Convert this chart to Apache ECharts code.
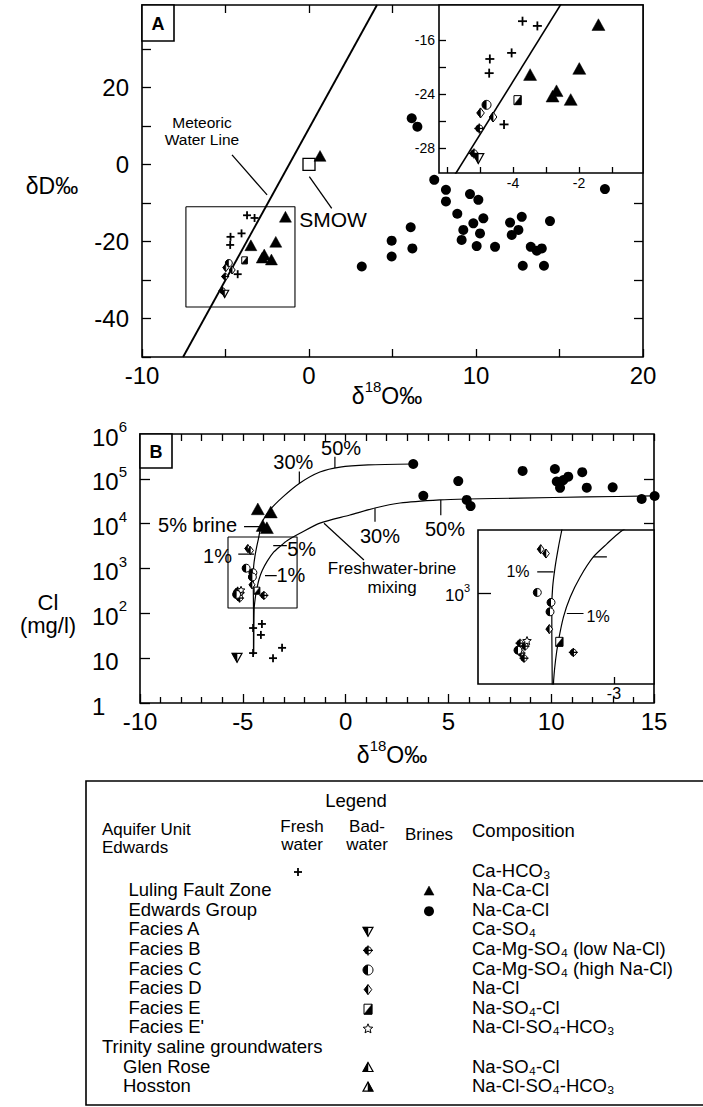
<!DOCTYPE html>
<html>
<head>
<meta charset="utf-8">
<script src="https://cdn.jsdelivr.net/npm/echarts@6/dist/echarts.min.js"></script>
<style>html,body{margin:0;padding:0;background:#fff}#c{width:703px;height:1107px}</style>
</head>
<body>
<div id="c"></div>
<script>
// ================= DATA =================
// Panel A : x = delta18O (permil), y = deltaD (permil)
const aFresh   = [[-3.71,-13.2],[-3.26,-13.9],[-4.04,-17.9],[-4.70,-18.8],[-4.72,-20.9],[-4.27,-28.5]];
const aLuling  = [[-1.41,-13.9],[-1.99,-20.4],[-3.48,-21.3],[-2.68,-23.7],[-2.80,-24.5],[-2.25,-25.0],[0.66,1.9]];
const aEdwards = [[3.16,-26.5],[6.15,12.0],[6.49,9.8],[7.50,-4.0],[8.20,-6.6],[8.20,-9.6],[8.88,-12.8],[9.64,-7.7],
  [10.14,-9.2],[10.44,-14.0],[9.84,-15.3],[9.24,-17.0],[9.14,-19.6],[10.24,-17.9],[10.04,-21.2],[11.14,-21.4],
  [12.04,-15.1],[12.74,-13.6],[12.54,-17.0],[12.14,-18.3],[14.43,-14.7],[13.28,-21.4],[13.94,-21.8],[13.64,-22.4],
  [12.80,-26.3],[14.07,-26.3],[17.72,-6.4],[6.09,-16.3],[4.95,-19.8],[4.95,-23.9],[6.19,-21.8]];
const aFaciesA = [[-5.05,-33.4]];
const aFaciesB = [[-5.02,-29.1],[-5.18,-32.8]];
const aFaciesC = [[-4.80,-25.6]];
const aFaciesD = [[-4.98,-26.8],[-4.60,-27.4]];
const aFaciesE = [[-3.86,-24.9]];
const aSMOW    = [[0,0]];
const aMeteoricLine = [[-7.54,-50],[4.07,41.4]];
const aZoomBox = [[-7.37,-11.0],[-0.84,-11.0],[-0.84,-37.0],[-7.37,-37.0],[-7.37,-11.0]];

// Panel B : x = delta18O (permil), y = Cl (mg/l)
const bFresh   = [[-4.50,47],[-4.07,58],[-4.12,33],[-4.50,13],[-3.53,10],[-3.09,17]];
const bLuling  = [[-4.27,20000],[-3.64,17000],[-4.03,8500],[-3.83,7600]];
const bEdwards = [[3.29,214000],[3.78,41900],[5.48,89000],[5.89,33900],[6.08,24700],[8.61,150000],[10.18,166000],
  [10.27,87000],[10.43,63000],[10.59,93800],[10.83,112000],[11.51,141000],[11.73,63500],[12.99,64600],[14.40,35500],[15.03,41500]];
const bFaciesA = [[-5.28,10.7]];
const bFaciesB = [[-3.975,251],[-5.253,311],[-5.133,290],[-5.229,247],[-5.157,219]];
const bFaciesC = [[-4.838,1016],[-4.509,805],[-4.533,647],[-5.301,264]];
const bFaciesD = [[-4.756,2790],[-4.629,2520],[-4.550,432]];
const bFaciesE = [[-4.310,321]];
const bFaciesE2 = [[-5.085,327]];
// mixing curves
const bMixUpper = [[-4.48,12],[-4.48,120],[-4.49,390],[-4.49,720],[-4.47,1150],[-4.41,1860],[-4.33,2950],[-4.25,4370],
  [-4.07,10400],[-3.68,20200],[-3.05,39600],[-2.22,81000],[-1.25,142000],[-0.27,183000],[1.10,204000],[3.29,214000]];
const bMixLower = [[-4.47,12],[-4.45,120],[-4.40,210],[-4.33,330],[-4.21,575],[-4.05,910],[-3.81,1460],[-3.49,2340],
  [-3.17,3160],[-2.85,4170],[-2.22,6100],[-1.25,10300],[0.21,15600],[1.43,22400],[2.65,28900],[4.59,33900],
  [5.90,35500],[8.48,37200],[11.74,39400],[14.95,41500]];
const bZoomBox = [[-5.72,5040],[-2.36,5040],[-2.36,132],[-5.72,132],[-5.72,5040]];

// tick labels
const aXLabels = [-10,0,10,20];
const aYLabels = [-40,-20,0,20];
const aTopTicks = [-5,0,5];
const aRightTicks = [-40,-30,-20,-10];
const aInsetXTicks = [-6,-5,-4,-3,-2,-1];
const aInsetXLabels = [-4,-2];
const aInsetYTicks = [-32,-28,-24,-20,-16];
const aInsetYLabelValues = [-16,-24,-32];
const aInsetYLabelText = ['-16','-24','-28'];
const bRightTicks = [10000,100000];
const bInsetXLabels = [-3];
const bInsetYLabels = [1000];

// annotations (data coordinates)
const aTexts = [
  {x:-6.41,y:11.0,text:'Meteoric',size:15.5},
  {x:-6.41,y:6.4,text:'Water Line',size:15.5},
  {x:1.44,y:-14.4,text:'SMOW',size:21}
];
const aLeaders = [ [[-4.61,2.47],[-2.51,-7.92]], [[0.02,-3.17],[1.36,-11.4]] ];
const bTexts = [
  {x:-0.22,y:479000,text:'50%',size:20},
  {x:-2.54,y:240000,text:'30%',size:20},
  {x:-7.20,y:9120,text:'5% brine',size:20},
  {x:-6.23,y:1860,text:'1%',size:20},
  {x:-2.14,y:2720,text:'5%',size:20},
  {x:-2.66,y:716,text:'1%',size:20},
  {x:1.67,y:5370,text:'30%',size:20},
  {x:4.83,y:7590,text:'50%',size:20},
  {x:2.26,y:1000,text:'Freshwater-brine',size:17},
  {x:2.26,y:372,text:'mixing',size:17}
];
const bLeaders = [
  [[-0.52,175000],[-0.52,310000]], [[-2.25,79000],[-2.25,145000]],
  [[-4.94,8570],[-4.16,8570]], [[-5.22,2100],[-4.45,2100]],
  [[-3.52,3240],[-2.86,3240]], [[-3.92,692],[-3.35,692]],
  [[1.43,22000],[1.43,11000]], [[4.63,33900],[4.63,15500]],
  [[-1.05,10200],[0.89,1550]]
];
const bInsetTexts = [ {x:-5.30,y:1645,text:'1%',size:16}, {x:-3.38,y:585,text:'1%',size:16} ];
const bInsetLeaders = [ [[-4.84,1645],[-4.45,1645]], [[-3.50,2335],[-3.17,2335]], [[-4.13,622],[-3.73,622]] ];

// legend table
const legendRows = [
  {label:'', x:0, fresh:'plus', comp:'Ca-HCO₃'},
  {label:'Luling Fault Zone', x:1, brine:'tri', comp:'Na-Ca-Cl'},
  {label:'Edwards Group', x:1, brine:'dot', comp:'Na-Ca-Cl'},
  {label:'Facies A', x:1, bad:'triDown', comp:'Ca-SO₄'},
  {label:'Facies B', x:1, bad:'crossCircle', comp:'Ca-Mg-SO₄ (low Na-Cl)'},
  {label:'Facies C', x:1, bad:'halfCircle', comp:'Ca-Mg-SO₄ (high Na-Cl)'},
  {label:'Facies D', x:1, bad:'halfDiamond', comp:'Na-Cl'},
  {label:'Facies E', x:1, bad:'halfSquare', comp:'Na-SO₄-Cl'},
  {label:"Facies E'", x:1, bad:'star', comp:'Na-Cl-SO₄-HCO₃'},
  {label:'Trinity saline groundwaters', x:0, comp:''},
  {label:'Glen Rose', x:0.6, bad:'triHalfL', comp:'Na-SO₄-Cl'},
  {label:'Hosston', x:0.6, bad:'triHalfR', comp:'Na-Cl-SO₄-HCO₃'}
];

// ================= RENDERING =================
const K = '#000';
const SANS = '"Liberation Sans", Arial, Helvetica, "DejaVu Sans", sans-serif';

function shapes(kind, x, y, s) {
  const r = s / 2, o = [];
  const line = (x1,y1,x2,y2,w) => o.push({type:'line', shape:{x1:x1,y1:y1,x2:x2,y2:y2}, style:{stroke:K, lineWidth:w||1.6}});
  const poly = (pts, fill, w) => o.push({type:'polygon', shape:{points:pts}, style:{fill:fill, stroke:K, lineWidth:w==null?1:w}});
  const circ = (rr, fill, w) => o.push({type:'circle', shape:{cx:x, cy:y, r:rr}, style:{fill:fill, stroke:K, lineWidth:w==null?1:w}});
  const halfDisc = (rr) => o.push({type:'sector', shape:{cx:x, cy:y, r:rr, r0:0, startAngle:Math.PI/2, endAngle:Math.PI*1.5, clockwise:true}, style:{fill:K}});
  switch (kind) {
    case 'plus': line(x-r,y,x+r,y,1.8); line(x,y-r,x,y+r,1.8); break;
    case 'tri': poly([[x,y-r*1.1],[x+r,y+r*0.7],[x-r,y+r*0.7]], K, 0.5); break;
    case 'dot': circ(r, K, 0); break;
    case 'square': o.push({type:'rect', shape:{x:x-r,y:y-r,width:s,height:s}, style:{fill:'#fff',stroke:K,lineWidth:1.3}}); break;
    case 'triDown':
      poly([[x-r,y-r*0.7],[x+r,y-r*0.7],[x,y+r*1.1]],'#fff',1.2);
      poly([[x-r,y-r*0.7],[x,y-r*0.7],[x,y+r*1.1]],K,0.5); break;
    case 'crossCircle':
      circ(r*0.72,'#fff',1); halfDisc(r*0.72); line(x-r,y,x+r,y,1.3); line(x,y-r,x,y+r,1.3); break;
    case 'halfCircle': circ(r,'#fff',1); halfDisc(r); break;
    case 'halfDiamond':
      poly([[x,y-r],[x+r*0.75,y],[x,y+r],[x-r*0.75,y]],'#fff',1);
      poly([[x,y-r],[x,y+r],[x-r*0.75,y]],K,0.5); break;
    case 'halfSquare':
      o.push({type:'rect',shape:{x:x-r*0.8,y:y-r,width:r*1.6,height:s},style:{fill:'#fff',stroke:K,lineWidth:1}});
      poly([[x-r*0.8,y+r],[x+r*0.8,y-r],[x+r*0.8,y+r]],K,0.5); break;
    case 'star': {
      const pts = [];
      for (let i = 0; i < 10; i++) { const a = -Math.PI/2 + i*Math.PI/5; const rr = i%2 ? r*0.45 : r; pts.push([x+rr*Math.cos(a), y+rr*Math.sin(a)]); }
      poly(pts,'#fff',1); break; }
    case 'triHalfL':
      poly([[x,y-r*1.1],[x+r,y+r*0.7],[x-r,y+r*0.7]],'#fff',1.2);
      poly([[x,y-r*1.1],[x,y+r*0.7],[x-r,y+r*0.7]],K,0.5); break;
    case 'triHalfR':
      poly([[x,y-r*1.1],[x+r,y+r*0.7],[x-r,y+r*0.7]],'#fff',1.2);
      poly([[x,y-r*1.1],[x+r,y+r*0.7],[x,y+r*0.7]],K,0.5); break;
  }
  return o;
}

function symSeries(data, kind, size, xi, yi, clip) {
  return {type:'custom', xAxisIndex:xi, yAxisIndex:yi, z:clip?6:3, clip:!!clip, silent:true, animation:false,
    data: data,
    renderItem: function (p, api) {
      const c = api.coord([api.value(0), api.value(1)]);
      return {type:'group', children: shapes(kind, c[0], c[1], size)};
    }};
}
function lineSeries(data, xi, yi, w, smooth, z) {
  return {type:'line', xAxisIndex:xi, yAxisIndex:yi, data: data, symbol:'none', showSymbol:false,
    smooth: smooth || false, lineStyle:{color:K, width:w||1.2}, silent:true, animation:false, z:z||2, clip:true};
}
function textSeries(items, xi, yi) {
  return {type:'custom', xAxisIndex:xi, yAxisIndex:yi, z:7, clip:false, silent:true, animation:false,
    data: items.map(t => [t.x, t.y]),
    renderItem: function (p, api) {
      const t = items[p.dataIndex];
      const c = api.coord([t.x, t.y]);
      return {type:'text', x:c[0], y:c[1], style:{text:t.text, fill:K, fontSize:t.size, fontFamily:SANS, align:'center', verticalAlign:'middle'}};
    }};
}

const tickStyle = {color:K, width:1.3};
const noLine = {show:false, onZero:false};
const gridBase = {show:true, borderColor:K, borderWidth:1.6, backgroundColor:'#fff', containLabel:false};
const lab = (size) => ({color:K, fontSize:size, fontFamily:SANS});

const supRich = {
  b:{fontSize:24, fontFamily:SANS, color:K, verticalAlign:'top', padding:[6,0,0,0]},
  s:{fontSize:15, fontFamily:SANS, color:K, verticalAlign:'top'}
};
function powLabel(v) {
  const e = Math.round(Math.log10(v));
  if (e === 0) return '{b|1}';
  if (e === 1) return '{b|10}';
  return '{b|10}{s|' + e + '}';
}

const option = {
  backgroundColor:'#fff',
  animation:false,
  grid:[
    Object.assign({left:142, top:5, width:501, height:352}, gridBase),
    Object.assign({left:439, top:5, width:204, height:168}, gridBase),
    Object.assign({left:140, top:434, width:514, height:269}, gridBase),
    Object.assign({left:478, top:530, width:176, height:154}, gridBase)
  ],
  xAxis:[
    {gridIndex:0, type:'value', min:-10, max:20, interval:5, position:'bottom', splitLine:{show:false},
     axisLine:noLine, axisTick:{inside:true, length:8, lineStyle:tickStyle},
     axisLabel:Object.assign(lab(24), {margin:6, formatter: v => aXLabels.includes(v) ? String(v) : ''})},
    {gridIndex:0, type:'value', min:-10, max:20, interval:5, position:'top', splitLine:{show:false},
     axisLine:noLine, axisTick:{inside:true, length:8, lineStyle:tickStyle, customValues:aTopTicks}, axisLabel:{show:false}},
    {gridIndex:1, type:'value', min:-6.24, max:-0.06, position:'bottom', splitLine:{show:false},
     axisLine:noLine, axisTick:{inside:true, length:6, lineStyle:tickStyle, customValues:aInsetXTicks},
     axisLabel:Object.assign(lab(14), {margin:3, customValues:aInsetXLabels, formatter: v => String(v)})},
    {gridIndex:2, type:'value', min:-10, max:15, interval:5, position:'bottom', splitLine:{show:false},
     axisLine:noLine, axisTick:{inside:true, length:9, lineStyle:tickStyle},
     minorTick:{show:true, splitNumber:5, length:6, lineStyle:tickStyle},
     axisLabel:Object.assign(lab(24), {margin:6})},
    {gridIndex:2, type:'value', min:-10, max:15, interval:1, position:'top', splitLine:{show:false},
     axisLine:noLine, axisTick:{inside:true, length:7, lineStyle:tickStyle}, axisLabel:{show:false}},
    {gridIndex:3, type:'value', min:-6.26, max:-2.04, position:'bottom', splitLine:{show:false},
     axisLine:noLine, axisTick:{inside:true, length:7, lineStyle:tickStyle, customValues:bInsetXLabels},
     axisLabel:Object.assign(lab(16), {margin:1, customValues:bInsetXLabels, formatter: v => String(v)})}
  ],
  yAxis:[
    {gridIndex:0, type:'value', min:-50, max:41.4, interval:10, position:'left', splitLine:{show:false},
     axisLine:noLine, axisTick:{inside:true, length:9, lineStyle:tickStyle},
     axisLabel:Object.assign(lab(24), {margin:13, formatter: v => aYLabels.includes(v) ? String(v) : ''})},
    {gridIndex:0, type:'value', min:-50, max:41.4, interval:10, position:'right', splitLine:{show:false},
     axisLine:noLine, axisTick:{inside:true, length:9, lineStyle:tickStyle, customValues:aRightTicks}, axisLabel:{show:false}},
    {gridIndex:1, type:'value', min:-35.7, max:-10.8, position:'left', splitLine:{show:false},
     axisLine:noLine, axisTick:{inside:true, length:7, lineStyle:tickStyle, customValues:aInsetYTicks},
     axisLabel:Object.assign(lab(14), {margin:4, customValues:aInsetYLabelValues,
       formatter: v => { const i = aInsetYLabelValues.indexOf(v); return i >= 0 ? aInsetYLabelText[i] : ''; }})},
    {gridIndex:2, type:'log', logBase:10, min:1, max:1000000, splitNumber:6, position:'left', splitLine:{show:false},
     axisLine:noLine, axisTick:{inside:true, length:10, lineStyle:tickStyle},
     axisLabel:{margin:48, align:'left', formatter: powLabel, rich: supRich}},
    {gridIndex:2, type:'log', logBase:10, min:1, max:1000000, position:'right', splitLine:{show:false},
     axisLine:noLine, axisTick:{inside:true, length:10, lineStyle:tickStyle, customValues:bRightTicks}, axisLabel:{show:false}},
    {gridIndex:3, type:'log', logBase:10, min:120, max:4365, position:'left', splitLine:{show:false},
     axisLine:noLine, axisTick:{inside:true, length:13, lineStyle:tickStyle, customValues:bInsetYLabels},
     axisLabel:{margin:8, customValues:bInsetYLabels, formatter: powLabel,
       rich:{b:{fontSize:17, fontFamily:SANS, color:K, verticalAlign:'top', padding:[4,0,0,0]}, s:{fontSize:11, fontFamily:SANS, color:K, verticalAlign:'top'}}}}
  ],
  series:[]
};

const S = option.series;
// ---- Panel A main ----
S.push(lineSeries(aMeteoricLine, 0, 0, 1.9));
S.push(lineSeries(aZoomBox, 0, 0, 1.1));
aLeaders.forEach(seg => S.push(lineSeries(seg, 0, 0, 1.3)));
S.push(symSeries(aSMOW, 'square', 12, 0, 0));
S.push(symSeries(aEdwards, 'dot', 10, 0, 0));
S.push(symSeries(aLuling, 'tri', 12, 0, 0));
S.push(symSeries(aFresh, 'plus', 8, 0, 0));
S.push(symSeries(aFaciesE, 'halfSquare', 7, 0, 0));
S.push(symSeries(aFaciesC, 'halfCircle', 7, 0, 0));
S.push(symSeries(aFaciesD, 'halfDiamond', 8, 0, 0));
S.push(symSeries(aFaciesB, 'crossCircle', 8, 0, 0));
S.push(symSeries(aFaciesA, 'triDown', 8, 0, 0));
S.push(textSeries(aTexts, 0, 0));
// ---- Panel A inset ----
S.push(lineSeries(aMeteoricLine, 2, 2, 1.6, false, 5));
S.push(symSeries(aLuling, 'tri', 13, 2, 2, true));
S.push(symSeries(aFresh, 'plus', 9, 2, 2, true));
S.push(symSeries(aFaciesE, 'halfSquare', 9, 2, 2, true));
S.push(symSeries(aFaciesC, 'halfCircle', 9, 2, 2, true));
S.push(symSeries(aFaciesD, 'halfDiamond', 10, 2, 2, true));
S.push(symSeries(aFaciesB, 'crossCircle', 10, 2, 2, true));
S.push(symSeries(aFaciesA, 'triDown', 11, 2, 2, true));
// ---- Panel B main ----
S.push(lineSeries(bMixUpper, 3, 3, 1.2, 0.25));
S.push(lineSeries(bMixLower, 3, 3, 1.2, 0.25));
S.push(lineSeries(bZoomBox, 3, 3, 1.1));
bLeaders.forEach(seg => S.push(lineSeries(seg, 3, 3, 1.2)));
S.push(symSeries(bEdwards, 'dot', 10, 3, 3));
S.push(symSeries(bLuling, 'tri', 13, 3, 3));
S.push(symSeries(bFresh, 'plus', 8, 3, 3));
S.push(symSeries(bFaciesA, 'triDown', 10, 3, 3));
S.push(symSeries(bFaciesB, 'crossCircle', 9, 3, 3));
S.push(symSeries(bFaciesE2, 'star', 8, 3, 3));
S.push(symSeries(bFaciesC, 'halfCircle', 8, 3, 3));
S.push(symSeries(bFaciesD, 'halfDiamond', 8, 3, 3));
S.push(symSeries(bFaciesE, 'halfSquare', 7, 3, 3));
S.push(textSeries(bTexts, 3, 3));
// ---- Panel B inset ----
S.push(lineSeries(bMixUpper, 5, 5, 1.2, 0.25, 5));
S.push(lineSeries(bMixLower, 5, 5, 1.2, 0.25, 5));
bInsetLeaders.forEach(seg => S.push(lineSeries(seg, 5, 5, 1.2, false, 5)));
S.push(symSeries(bFaciesB, 'crossCircle', 9, 5, 5, true));
S.push(symSeries(bFaciesE2, 'star', 9, 5, 5, true));
S.push(symSeries(bFaciesC, 'halfCircle', 8, 5, 5, true));
S.push(symSeries(bFaciesD, 'halfDiamond', 9, 5, 5, true));
S.push(symSeries(bFaciesE, 'halfSquare', 9, 5, 5, true));
S.push(textSeries(bInsetTexts, 5, 5));

// ---- graphic: panel letters, axis titles, legend ----
const G = [];
function txt(x, y, text, size, align, extra) {
  G.push({type:'text', x:x, y:y, z:100, style:Object.assign({text:text, fill:K, fontSize:size, fontFamily:SANS,
    align:align||'center', verticalAlign:'middle'}, extra||{})});
}
G.push({type:'rect', z:100, shape:{x:142, y:5, width:32, height:36}, style:{fill:'#fff', stroke:K, lineWidth:1.6}});
txt(158, 23.5, 'A', 18, 'center', {fontWeight:'bold'});
G.push({type:'rect', z:100, shape:{x:140, y:434, width:32, height:34}, style:{fill:'#fff', stroke:K, lineWidth:1.6}});
txt(156, 451.5, 'B', 18, 'center', {fontWeight:'bold'});

const titleRich = {a:{fontSize:23, fontFamily:SANS, color:K, verticalAlign:'top', padding:[6,0,0,0]},
                   s:{fontSize:15, fontFamily:SANS, color:K, verticalAlign:'top'}};
txt(52, 183, '{a|δD‰}', 23, 'center', {rich:titleRich});
txt(387, 393, '{a|δ}{s|18}{a|O‰}', 23, 'center', {rich:titleRich});
txt(392, 752, '{a|δ}{s|18}{a|O‰}', 23, 'center', {rich:titleRich});
txt(48, 602, 'Cl', 22);
txt(48, 625, '(mg/l)', 22);

// legend
const LF = 18.5, HF = 17;
G.push({type:'rect', z:50, shape:{x:86, y:781, width:660, height:324}, style:{fill:'none', stroke:K, lineWidth:1.6}});
txt(356, 800, 'Legend', LF);
txt(102, 829.5, 'Aquifer Unit', HF, 'left');
txt(102, 847.5, 'Edwards', HF, 'left');
txt(302, 826, 'Fresh', HF); txt(302, 844, 'water', HF);
txt(367, 826, 'Bad-', HF); txt(367, 844, 'water', HF);
txt(429, 834, 'Brines', HF);
txt(472, 830, 'Composition', LF, 'left');
const colX = {fresh:298, bad:368, brine:429};
legendRows.forEach((row, i) => {
  const y = 870 + i * 19.6;
  if (row.label) txt(row.x === 1 ? 128.5 : (row.x > 0 ? 123 : 102), y, row.label, LF, 'left', {lineHeight:18});
  if (row.comp) txt(472, y, row.comp, LF, 'left', {lineHeight:18});
  ['fresh','bad','brine'].forEach(k => {
    if (row[k]) {
      const kids = shapes(row[k], colX[k], y + 2, row[k]==='plus' ? 8 : 10).map(e => Object.assign(e, {z:100}));
      G.push({type:'group', z:100, children: kids});
    }
  });
});
option.graphic = G;

const chart = echarts.init(document.getElementById('c'), null, {renderer:'svg', width:703, height:1107});
chart.setOption(option);
</script>
</body>
</html>
